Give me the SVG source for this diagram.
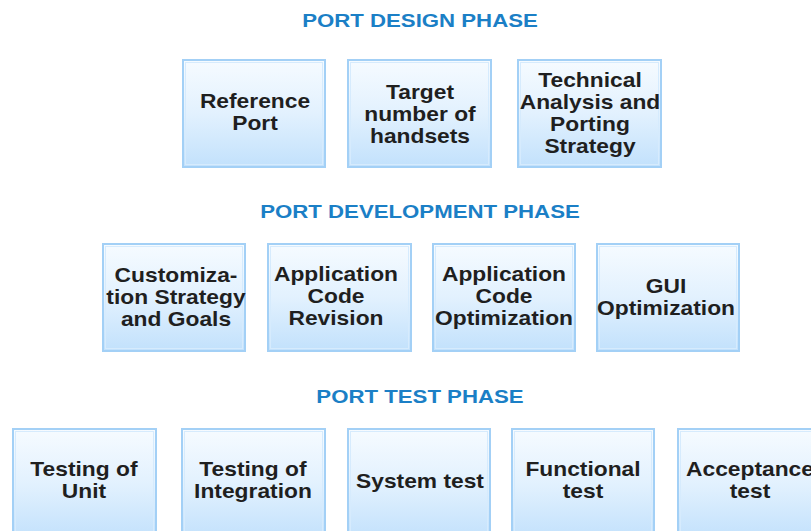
<svg xmlns="http://www.w3.org/2000/svg" width="811" height="531" viewBox="0 0 811 531">
  <defs>
    <linearGradient id="boxFill" x1="0" y1="0" x2="0" y2="1">
      <stop offset="0" stop-color="#f6fbff"/>
      <stop offset="0.5" stop-color="#e2f1fe"/>
      <stop offset="1" stop-color="#c2e1fc"/>
    </linearGradient>
    <style>
      .box { fill: url(#boxFill); stroke: #a3d0f6; stroke-width: 2; }
      .inner { fill: none; stroke: #d6ebfd; stroke-width: 1; }
      text { transform-box: fill-box; transform-origin: center; }
      .phase { font-family: "Liberation Sans", Arial, sans-serif; font-weight: bold; font-size: 19px; fill: #1b7fc6; text-anchor: middle; transform: scaleX(1.17); }
      .label { font-family: "Liberation Sans", Arial, sans-serif; font-weight: bold; font-size: 20px; fill: #1f1f1f; text-anchor: middle; transform: scaleX(1.14); }
    </style>
  </defs>
  <rect width="811" height="531" fill="#ffffff"/>

  <!-- Phase headings -->
  <text class="phase" x="420" y="27">PORT DESIGN PHASE</text>
  <text class="phase" x="420" y="218">PORT DEVELOPMENT PHASE</text>
  <text class="phase" x="420" y="403">PORT TEST PHASE</text>

  <!-- Design phase -->
  <g id="reference-port">
    <rect class="box" x="183" y="60" width="142" height="107"/>
    <rect class="inner" x="185.5" y="62.5" width="137" height="102"/>
    <text class="label" x="255" y="108">Reference</text>
    <text class="label" x="255" y="130">Port</text>
  </g>
  <g id="target-handsets">
    <rect class="box" x="348" y="60" width="143" height="107"/>
    <rect class="inner" x="350.5" y="62.5" width="138" height="102"/>
    <text class="label" x="420" y="99">Target</text>
    <text class="label" x="420" y="121">number of</text>
    <text class="label" x="420" y="143">handsets</text>
  </g>
  <g id="technical-analysis">
    <rect class="box" x="518" y="60" width="143" height="107"/>
    <rect class="inner" x="520.5" y="62.5" width="138" height="102"/>
    <text class="label" x="590" y="87">Technical</text>
    <text class="label" x="590" y="109">Analysis and</text>
    <text class="label" x="590" y="131">Porting</text>
    <text class="label" x="590" y="153">Strategy</text>
  </g>

  <!-- Development phase -->
  <g id="customization-strategy">
    <rect class="box" x="103" y="244" width="142" height="107"/>
    <rect class="inner" x="105.5" y="246.5" width="137" height="102"/>
    <text class="label" x="176" y="282">Customiza-</text>
    <text class="label" x="176" y="304">tion Strategy</text>
    <text class="label" x="176" y="326">and Goals</text>
  </g>
  <g id="code-revision">
    <rect class="box" x="268" y="244" width="143" height="107"/>
    <rect class="inner" x="270.5" y="246.5" width="138" height="102"/>
    <text class="label" x="336" y="281">Application</text>
    <text class="label" x="336" y="303">Code</text>
    <text class="label" x="336" y="325">Revision</text>
  </g>
  <g id="code-optimization">
    <rect class="box" x="433" y="244" width="142" height="107"/>
    <rect class="inner" x="435.5" y="246.5" width="137" height="102"/>
    <text class="label" x="504" y="281">Application</text>
    <text class="label" x="504" y="303">Code</text>
    <text class="label" x="504" y="325">Optimization</text>
  </g>
  <g id="gui-optimization">
    <rect class="box" x="597" y="244" width="142" height="107"/>
    <rect class="inner" x="599.5" y="246.5" width="137" height="102"/>
    <text class="label" x="666" y="293">GUI</text>
    <text class="label" x="666" y="315">Optimization</text>
  </g>

  <!-- Test phase -->
  <g id="unit-testing">
    <rect class="box" x="13" y="429" width="143" height="110"/>
    <rect class="inner" x="15.5" y="431.5" width="138" height="105"/>
    <text class="label" x="84" y="476">Testing of</text>
    <text class="label" x="84" y="498">Unit</text>
  </g>
  <g id="integration-testing">
    <rect class="box" x="182" y="429" width="143" height="110"/>
    <rect class="inner" x="184.5" y="431.5" width="138" height="105"/>
    <text class="label" x="253" y="476">Testing of</text>
    <text class="label" x="253" y="498">Integration</text>
  </g>
  <g id="system-test">
    <rect class="box" x="348" y="429" width="142" height="110"/>
    <rect class="inner" x="350.5" y="431.5" width="137" height="105"/>
    <text class="label" x="420" y="488">System test</text>
  </g>
  <g id="functional-test">
    <rect class="box" x="512" y="429" width="142" height="110"/>
    <rect class="inner" x="514.5" y="431.5" width="137" height="105"/>
    <text class="label" x="583" y="476">Functional</text>
    <text class="label" x="583" y="498">test</text>
  </g>
  <g id="acceptance-test">
    <rect class="box" x="678" y="429" width="143" height="110"/>
    <rect class="inner" x="680.5" y="431.5" width="138" height="105"/>
    <text class="label" x="750" y="476">Acceptance</text>
    <text class="label" x="750" y="498">test</text>
  </g>

  <!-- No connectors are drawn between the phase boxes -->
  <g id="connectors"/>
</svg>
